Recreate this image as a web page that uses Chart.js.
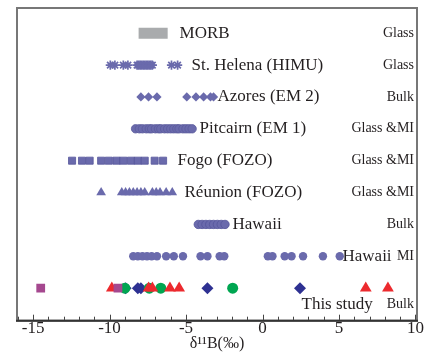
<!DOCTYPE html>
<html>
<head>
<meta charset="utf-8">
<script src="https://cdn.jsdelivr.net/npm/chart.js@4.4.1/dist/chart.umd.min.js"></script>
<style>
  body { margin: 0; background: #fff; }
  #wrap { width: 431px; height: 354px; }
</style>
</head>
<body>
<div id="wrap"><canvas id="boronChart" width="431" height="354"></canvas></div>
<script>
// row labels (top to bottom) and sample type on the right
const rowNames = ['MORB', 'St. Helena (HIMU)', 'Azores (EM 2)', 'Pitcairn (EM 1)', 'Fogo (FOZO)',
  'Réunion (FOZO)', 'Hawaii', 'Hawaii', 'This study'];
const sampleTypes = ['Glass', 'Glass', 'Bulk', 'Glass &MI', 'Glass &MI', 'Glass &MI', 'Bulk', 'MI', 'Bulk'];
const xTicks = [-15, -10, -5, 0, 5, 10];

// d11B values, permil
const morbRange = [-8.1, -6.2];
const stHelena = [-9.95, -9.65, -9.1, -8.8, -8.2, -8.1, -8.0, -7.9, -7.8, -7.7, -7.6, -7.5, -7.4, -7.3, -7.2, -5.95, -5.55];
const azores = [-7.95, -7.45, -6.9, -4.95, -4.35, -3.85, -3.4, -3.2];
const pitcairn = [-8.3, -8.05, -7.85, -7.6, -7.4, -7.25, -7.0, -6.8, -6.65, -6.4, -6.2, -6.0, -5.8, -5.6, -5.45, -5.2, -5.0, -4.8, -4.6];
const fogo = [-12.45, -11.8, -11.3, -10.55, -10.05, -9.55, -9.1, -8.6, -8.15, -7.7, -7.05, -6.5];
const reunion = [-10.55, -9.2, -8.95, -8.7, -8.45, -8.2, -7.95, -7.7, -7.2, -6.95, -6.7, -6.3, -5.9];
const hawaiiBulk = [-4.2, -3.95, -3.7, -3.45, -3.2, -2.95, -2.7, -2.45];
const hawaiiMI = [-8.45, -8.15, -7.85, -7.55, -7.25, -6.9, -6.3, -5.8, -5.2, -4.05, -3.6, -2.8, -2.5, 0.35, 0.65, 1.45, 1.9, 2.65, 3.95, 5.05];

// this study (bulk)
const studySquares = [-14.5, -9.45];
const studyTriangles = [-9.85, -7.45, -7.2, -6.05, -5.45, 6.75, 8.2];
const studyDiamonds = [-8.95, -8.15, -7.95, -3.6, 2.45];
const studyCircles = [-9.0, -7.4, -6.65, -1.95];

// where the row names start, in x units
const nameStart = [-5.42, -4.64, -2.94, -4.12, -5.56, -5.1, -1.96, 5.23, 2.55];

const serif = "'Liberation Serif', 'Times New Roman', serif";
const purple = '#6a6aac';

function onRow(values, row) {
  return values.map(v => ({ x: v, y: row }));
}

function pts(values, row, style, radius, color, edge) {
  return {
    data: onRow(values, row),
    pointStyle: style,
    pointRadius: radius,
    backgroundColor: color,
    borderColor: edge || color,
    borderWidth: edge ? 0.8 : 0
  };
}

const rowText = {
  id: 'rowText',
  beforeDatasetsDraw(chart) {
    const ctx = chart.ctx;
    const xs = chart.scales.x;
    const a = chart.chartArea;
    ctx.save();
    // small ticks every 1 permil, pointing into the plot
    ctx.strokeStyle = '#444';
    ctx.lineWidth = 1;
    for (let v = Math.ceil(xs.min); v <= Math.floor(xs.max); v++) {
      const px = Math.round(xs.getPixelForValue(v)) + 0.5;
      const len = v % 5 === 0 ? 6 : 4;
      ctx.beginPath();
      ctx.moveTo(px, a.bottom);
      ctx.lineTo(px, a.bottom - len);
      ctx.stroke();
    }
    ctx.restore();
  },
  afterDatasetsDraw(chart) {
    const ctx = chart.ctx;
    const xs = chart.scales.x;
    const ys = chart.scales.y;
    const a = chart.chartArea;
    ctx.save();
    ctx.fillStyle = '#231f20';
    ctx.textBaseline = 'middle';
    rowNames.forEach((name, i) => {
      const y = ys.getPixelForValue(i === 8 ? 8.5 : i);
      ctx.font = '17px ' + serif;
      ctx.textAlign = 'left';
      ctx.fillText(name, xs.getPixelForValue(nameStart[i]), y);
      ctx.font = '14px ' + serif;
      ctx.textAlign = 'right';
      ctx.fillText(sampleTypes[i], a.right - 3, y);
    });
    // frame
    ctx.strokeStyle = '#777';
    ctx.lineWidth = 2;
    ctx.strokeRect(a.left, a.top, a.right - a.left, a.bottom - a.top);
    ctx.strokeStyle = '#333';
    ctx.beginPath();
    ctx.moveTo(a.left - 1, a.bottom);
    ctx.lineTo(a.right + 1, a.bottom);
    ctx.stroke();
    ctx.restore();
  }
};

Chart.defaults.font.family = serif;

new Chart(document.getElementById('boronChart'), {
  type: 'scatter',
  data: {
    datasets: [
      {
        data: onRow(morbRange, 0),
        showLine: true,
        borderColor: '#a9abad',
        borderWidth: 11,
        borderCapStyle: 'butt',
        pointRadius: 0
      },
      Object.assign(pts(stHelena, 1, 'star', 4.6, purple), { borderWidth: 1.7 }),
      pts(azores, 2, 'rectRot', 4.6, purple),
      pts(pitcairn, 3, 'circle', 4.2, purple, '#5b5b9c'),
      pts(fogo, 4, 'rect', 5, purple, '#55559a'),
      pts(reunion, 5, 'triangle', 5.6, purple),
      pts(hawaiiBulk, 6, 'circle', 4.2, purple, '#55559a'),
      pts(hawaiiMI, 7, 'circle', 4.2, purple),
      pts(studySquares, 8, 'rect', 6.2, '#a5488f'),
      pts(studyTriangles, 8, 'triangle', 6.8, '#ec2a2e'),
      pts(studyCircles, 8, 'circle', 5.5, '#00a651'),
      pts(studyDiamonds, 8, 'rectRot', 6, '#2e3192')
    ]
  },
  options: {
    responsive: false,
    animation: false,
    layout: { padding: { left: 17, right: 14, top: 8, bottom: 0 } },
    plugins: {
      legend: { display: false },
      tooltip: { enabled: false }
    },
    scales: {
      x: {
        type: 'linear',
        min: -16.05,
        max: 10.1,
        afterBuildTicks: scale => {
          scale.ticks = xTicks.map(v => ({ value: v }));
        },
        grid: { display: false, drawTicks: false },
        border: { display: false },
        ticks: {
          autoSkip: false,
          maxRotation: 0,
          padding: 0,
          color: '#231f20',
          font: { size: 17, lineHeight: 0.9 },
          callback: v => String(v)
        },
        title: {
          display: true,
          text: 'δ¹¹B(‰)',
          color: '#231f20',
          font: { size: 16, lineHeight: 1 },
          padding: { top: 0, bottom: 2 }
        }
      },
      y: {
        type: 'linear',
        display: false,
        reverse: true,
        min: -0.79,
        max: 9.02
      }
    }
  },
  plugins: [rowText]
});
</script>
</body>
</html>
